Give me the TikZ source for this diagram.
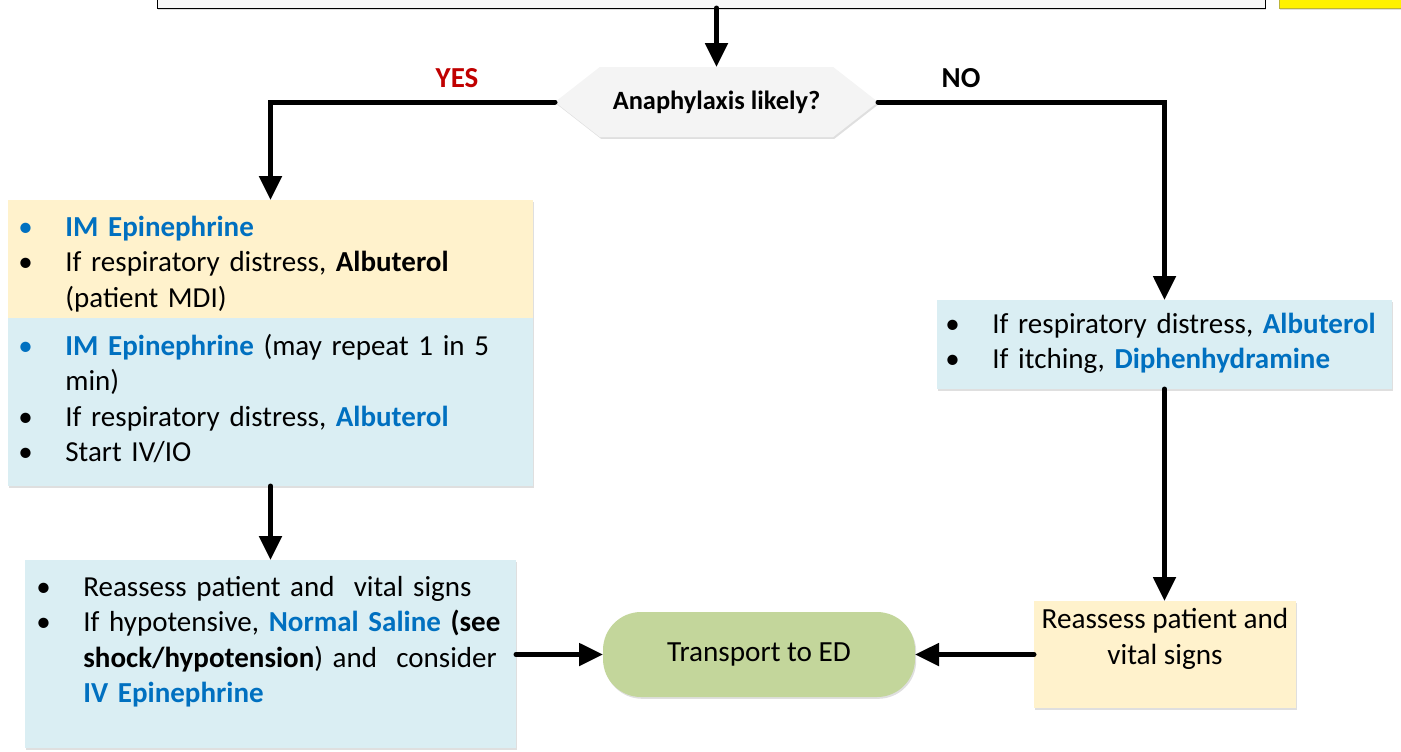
\documentclass[tikz,border=0pt]{standalone}
\usepackage{fontspec}
\setmainfont{Carlito}
\usetikzlibrary{arrows.meta,shapes.symbols,shadows}
\definecolor{medblue}{HTML}{0070C0}
\definecolor{darkred}{HTML}{C00000}
\definecolor{peach}{HTML}{FFF2CC}
\definecolor{lightblue}{HTML}{DAEEF3}
\definecolor{olive}{HTML}{C3D69B}
\definecolor{hexfill}{HTML}{F4F4F4}
\newcommand\bl[1]{\textcolor{medblue}{\textbf{#1}}}
\newcommand\itm[1][black]{\makebox[23.5pt][l]{\textcolor{#1}{\textbullet}}}
\newcommand\ind{\hspace*{23.5pt}}
\newcommand\tightsp{\spaceskip=2.6pt plus 0.5pt minus 0.2pt\relax\xspaceskip=2.6pt plus 0.5pt minus 0.2pt\relax}
\begin{document}
\begin{tikzpicture}[x=0.5pt,y=-0.5pt,
  box/.style={rectangle, inner sep=0pt, outer sep=0pt,
    drop shadow={shadow xshift=0.6pt, shadow yshift=-0.9pt, opacity=0.25}},
  txt/.style={inner sep=0pt, align=left, text width=300pt,
    font=\fontsize{14.5}{17.75}\selectfont\tightsp},
  arr/.style={line width=2.5pt, line cap=round, -{Triangle[width=11pt,length=12pt]}},
  lbl/.style={font=\fontsize{14.5}{16}\selectfont\bfseries}]
\useasboundingbox (0,0) rectangle (1401,751);
\clip (0,0) rectangle (1401,751);
% top boxes (partly visible)
\node[box, draw=black, line width=0.5pt, fill=hexfill!60, minimum width=554pt, minimum height=19pt] (top) at (711,-11) {};
\node[box, draw=yellow!70!black, line width=0.5pt, fill=yellow, minimum width=70.5pt, minimum height=19pt] (ybox) at (1349.5,-11) {};
% decision
\node[box, shape=signal, signal to=west and east, signal pointer angle=76, fill=hexfill,
  minimum width=161.5pt, minimum height=35pt, font=\fontsize{13.2}{15}\selectfont\bfseries] (dia) at (716.5,102) {Anaphylaxis likely?};
\node[lbl, text=darkred] (yes) at (457,78) {YES};
\node[lbl] (no) at (961,78) {NO};
% left boxes
\node[box, fill=peach, minimum width=262.5pt, minimum height=59pt] (lyel) at (270.5,259) {};
\node[box, fill=lightblue, minimum width=262.5pt, minimum height=84pt] (lblue) at (270.5,402) {};
\node[box, fill=lightblue, minimum width=245.5pt, minimum height=94pt] (bl) at (270.5,654) {};
% right boxes
\node[box, fill=lightblue, minimum width=227.5pt, minimum height=44.5pt] (rblue) at (1164.5,344.5) {};
\node[box, fill=peach, minimum width=131pt, minimum height=53.5pt] (rbox2) at (1165,654.5) {};
% pill
\node[box, fill=olive, rounded corners=19pt, minimum width=156pt, minimum height=42.5pt,
  font=\fontsize{14.6}{17}\selectfont] (pill) at (759,654.5) {\raisebox{-1.5pt}{Transport to ED}};
% texts
\node[txt, anchor=base west] (t1) at (18,236) {%
\itm[medblue]\bl{IM Epinephrine}\\
\itm If respiratory distress, \textbf{Albuterol}\\
\ind(patient MDI)};
\node[txt, anchor=base west] (t2) at (18,355) {%
\itm[medblue]\bl{IM Epinephrine} (may repeat 1 in 5\\
\ind min)\\
\itm If respiratory distress, \bl{Albuterol}\\
\itm Start IV/IO};
\node[txt, anchor=base west] (t3) at (36,596) {%
\itm Reassess patient and\ \ vital signs\\
\itm If hypotensive, \bl{Normal Saline} \textbf{(see}\\
\ind\textbf{shock/hypotension}) and\ \ consider\\
\ind\bl{IV Epinephrine}};
\node[txt, anchor=base west] (t4) at (945,333) {%
\itm If respiratory distress, \bl{Albuterol}\\
\itm If itching, \bl{Diphenhydramine}};
\node[inner sep=0pt, align=center, font=\fontsize{14.6}{17.75}\selectfont] (t5) at (1165,639) {Reassess patient and\\vital signs};
% connectors
\draw[arr] (top.south -| dia.north) -- (dia.north);
\draw[arr] (dia.west) -| (lyel.north);
\draw[arr] (dia.east) -| (rblue.north);
\draw[arr] (lblue.south) -- (bl.north);
\draw[arr] (rblue.south) -- (rblue.south |- rbox2.north);
\draw[arr] (bl.east |- pill.west) -- (pill.west);
\draw[arr] (rbox2.west) -- (pill.east);
\end{tikzpicture}
\end{document}
